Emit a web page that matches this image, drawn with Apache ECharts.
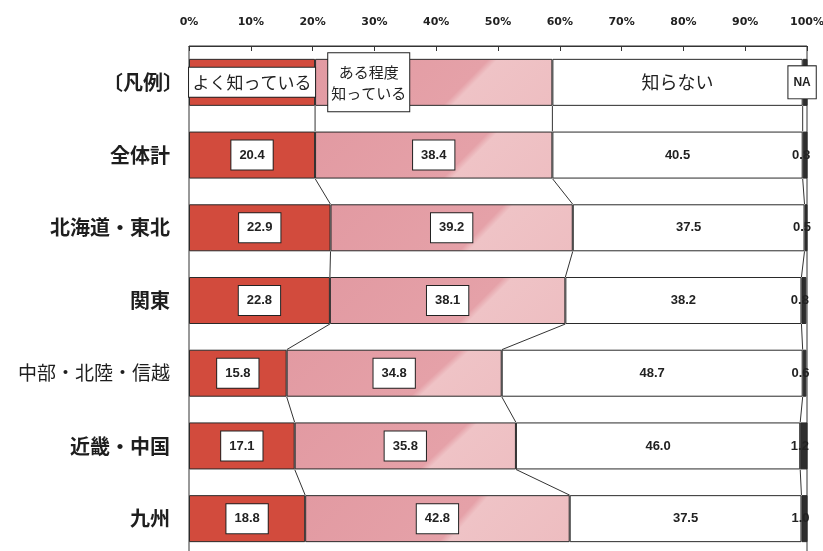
<!DOCTYPE html>
<html>
<head>
<meta charset="utf-8">
<script src="https://cdn.jsdelivr.net/npm/echarts@6/dist/echarts.min.js"></script>
<style>
  html, body { margin: 0; padding: 0; background: #fff; }
  #chart { width: 823px; height: 551px; }
</style>
</head>
<body>
<div id="chart"></div>
<script>
// Row labels: the first row is the key, drawn with the 全体計 proportions
const categories = ['〔凡例〕', '全体計', '北海道・東北', '関東', '中部・北陸・信越', '近畿・中国', '九州'];
const seriesNames = ['よく知っている', 'ある程度\n知っている', '知らない', 'NA'];

// Shares per region (%)
const knowWell = [20.4, 22.9, 22.8, 15.8, 17.1, 18.8];
const knowSome = [38.4, 39.2, 38.1, 34.8, 35.8, 42.8];
const dontKnow = [40.5, 37.5, 38.2, 48.7, 46.0, 37.5];
const noAnswer = [0.8, 0.5, 0.8, 0.6, 1.2, 1.0];

const tickValues = [0, 10, 20, 30, 40, 50, 60, 70, 80, 90, 100];

const BAR_H = 47;
const RED = '#d24b3d';
const NA_DARK = '#2e2e2e';
const EDGE = '#2a2a2a';
const CJK = '"Noto Sans CJK JP", "Noto Sans", sans-serif';
const NUM = '"Liberation Sans", Arial, sans-serif';

// pink fill with a lighter diagonal wedge towards the right
const PINK = new echarts.graphic.LinearGradient(0, 0, 1, 5, [
  { offset: 0, color: '#e29aa2' },
  { offset: 0.37, color: '#e5a1a8' },
  { offset: 0.39, color: '#efc3c6' },
  { offset: 1, color: '#ebb4b8' }
]);

const seriesValues = [knowWell, knowSome, dontKnow, noAnswer];
// values of a drawn row (row 0 = key row, using the overall shares)
const rowValues = r => seriesValues.map(arr => arr[Math.max(r - 1, 0)]);

const valueBox = {
  backgroundColor: '#fff', borderColor: '#222', borderWidth: 1,
  padding: [8, 8], fontSize: 13, fontWeight: 'bold', fontFamily: NUM, color: '#222'
};
const plainValue = { fontSize: 13, fontWeight: 'bold', fontFamily: NUM, color: '#222' };

function seriesData(k, keyLabel) {
  const arr = seriesValues[k];
  return [{ value: arr[0], label: keyLabel }].concat(arr.map(v => v));
}

const fmt = k => p => p.dataIndex === 0 ? seriesNames[k] : Number(p.value).toFixed(1);

const bars = [
  {
    name: seriesNames[0], color: RED,
    label: Object.assign({ show: true, position: 'inside', formatter: fmt(0) }, valueBox),
    key: { width: 126, height: 29, lineHeight: 29, padding: 0, fontSize: 17, fontWeight: 'normal', fontFamily: CJK, align: 'center' }
  },
  {
    name: seriesNames[1], color: PINK,
    label: Object.assign({ show: true, position: 'inside', formatter: fmt(1) }, valueBox),
    key: { offset: [-65, 0], padding: [8, 3], lineHeight: 21, fontSize: 15, fontWeight: 'normal', fontFamily: CJK, align: 'center' }
  },
  {
    name: seriesNames[2], color: '#ffffff',
    label: Object.assign({ show: true, position: 'inside', formatter: fmt(2) }, plainValue),
    key: { fontSize: 18, fontWeight: 'normal', fontFamily: CJK }
  },
  {
    name: seriesNames[3], color: NA_DARK,
    label: Object.assign({ show: true, position: 'inside', formatter: fmt(3), offset: [-4, 0] }, plainValue),
    key: { backgroundColor: '#fff', borderColor: '#222', borderWidth: 1, padding: [10, 5], fontSize: 12, offset: [-3, 0] }
  }
].map((b, k) => ({
  name: b.name,
  type: 'bar',
  stack: 'total',
  barWidth: BAR_H,
  itemStyle: { color: b.color, borderColor: EDGE, borderWidth: 1 },
  label: b.label,
  data: seriesData(k, b.key),
  z: 2
}));

// Lines joining the category boundaries of neighbouring rows
const joins = [];
for (let r = 0; r < categories.length - 1; r++) {
  const a = rowValues(r), b = rowValues(r + 1);
  let ca = 0, cb = 0;
  for (let k = 0; k < 3; k++) {
    ca += a[k]; cb += b[k];
    joins.push([r, ca, cb]);
  }
}

const joinSeries = {
  type: 'custom',
  encode: { x: [1, 2], y: 0 },
  data: joins,
  z: 3,
  renderItem(params, api) {
    const row = api.value(0);
    const p1 = api.coord([api.value(1), row]);
    const p2 = api.coord([api.value(2), row + 1]);
    const h = BAR_H / 2;
    return {
      type: 'line',
      shape: { x1: p1[0], y1: p1[1] + h, x2: p2[0], y2: p2[1] - h },
      style: { stroke: '#333', lineWidth: 1 }
    };
  }
};

const chart = echarts.init(document.getElementById('chart'), null, { renderer: 'canvas' });
chart.setOption({
  animation: false,
  backgroundColor: '#ffffff',
  grid: {
    left: 189, top: 46, width: 618, height: 509,
    outerBoundsMode: 'none', containLabel: false,
    show: true, borderColor: '#333', borderWidth: 1, backgroundColor: 'transparent'
  },
  xAxis: {
    type: 'value', position: 'top', min: 0, max: 100, interval: 10,
    axisLine: { show: true, lineStyle: { color: '#333', width: 1 } },
    axisTick: { show: true, inside: true, length: 5, lineStyle: { color: '#333' } },
    splitLine: { show: false },
    axisLabel: {
      margin: 18, fontSize: 11, fontWeight: 'bold', fontFamily: '"DejaVu Sans", sans-serif', color: '#222',
      hideOverlap: false,
      formatter: v => tickValues.includes(v) ? v + '%' : ''
    }
  },
  yAxis: {
    type: 'category', inverse: true, data: categories,
    axisLine: { show: false }, axisTick: { show: false },
    axisLabel: {
      margin: 19,
      formatter: (v, i) => i === 0 ? '{k|' + v + '}'
        : v === '中部・北陸・信越' ? '{n|' + v + '}' : '{b|' + v + '}',
      rich: {
        k: { fontSize: 20, fontWeight: 'bold', fontFamily: CJK, color: '#1e1e1e', width: 67, align: 'left' },
        b: { fontSize: 20, fontWeight: 'bold', fontFamily: CJK, color: '#1e1e1e' },
        n: { fontSize: 19, fontWeight: 'normal', fontFamily: CJK, color: '#1e1e1e' }
      }
    }
  },
  series: bars.concat([joinSeries])
});
</script>
</body>
</html>
